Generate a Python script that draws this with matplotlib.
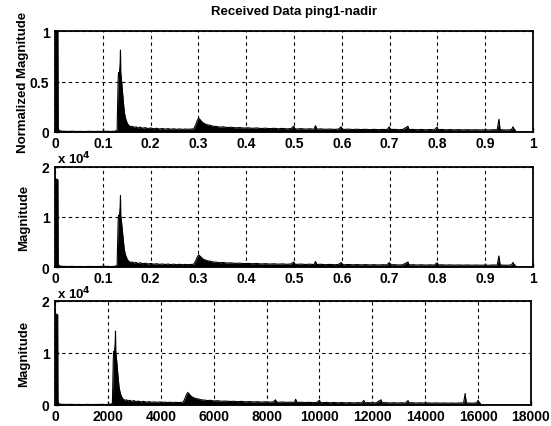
import numpy as np
import matplotlib
matplotlib.use("Agg")
import matplotlib.pyplot as plt

plt.rcParams['font.family'] = ['Liberation Sans', 'DejaVu Sans']
plt.rcParams['font.weight'] = 'bold'

# spectrum: frequency (Hz) and magnitude (10 values per row)
freq_hz = [0, 40, 100, 112, 130, 200, 300, 450, 600, 750,
           900, 1050, 1200, 1350, 1500, 1650, 1800, 1950, 2100, 2170,
           2190, 2205, 2220, 2240, 2260, 2275, 2288, 2296, 2305, 2320,
           2345, 2370, 2395, 2420, 2450, 2480, 2510, 2550, 2590, 2640,
           2700, 2760, 2830, 2900, 2980, 3060, 3150, 3250, 3350, 3450,
           3550, 3650, 3750, 3850, 3950, 4050, 4150, 4250, 4350, 4450,
           4550, 4650, 4750, 4850, 4920, 4970, 5020, 5060, 5110, 5170,
           5240, 5320, 5420, 5520, 5640, 5760, 5880, 6000, 6150, 6300,
           6450, 6600, 6750, 6900, 7050, 7200, 7350, 7500, 7650, 7800,
           7950, 8100, 8250, 8340, 8380, 8450, 8600, 8750, 8900, 9050,
           9100, 9150, 9300, 9450, 9600, 9750, 9900, 10000, 10040, 10100,
           10250, 10400, 10550, 10700, 10850, 11000, 11150, 11300, 11450, 11600,
           11680, 11720, 11850, 12000, 12150, 12330, 12370, 12500, 12650, 12800,
           12950, 13100, 13250, 13350, 13390, 13500, 13650, 13800, 13950, 14100,
           14250, 14400, 14550, 14700, 14850, 15000, 15150, 15300, 15450, 15510,
           15550, 15650, 15800, 15950, 16000, 16050, 16080, 16100, 18000]
mag = [17500, 17500, 17400, 900, 300, 160, 120, 100, 130, 90,
       110, 80, 120, 90, 110, 100, 130, 90, 140, 300,
       5500, 9000, 10300, 9600, 10800, 11800, 14200, 10400, 9900, 9200,
       7800, 6200, 4800, 3500, 2700, 2100, 1700, 1300, 1100, 900,
       1000, 800, 900, 700, 850, 650, 750, 600, 700, 550,
       650, 520, 600, 500, 580, 480, 560, 460, 540, 450,
       520, 470, 500, 560, 1300, 2000, 2400, 2200, 1900, 1600,
       1400, 1250, 1150, 1000, 950, 850, 900, 780, 820, 720,
       760, 680, 720, 640, 700, 600, 660, 580, 640, 560,
       620, 540, 600, 1000, 560, 520, 580, 500, 560, 480,
       1100, 500, 540, 460, 520, 450, 500, 900, 480, 440,
       500, 430, 480, 420, 470, 410, 460, 400, 450, 420,
       900, 430, 460, 400, 440, 1000, 420, 450, 390, 440,
       380, 430, 380, 850, 400, 440, 380, 420, 370, 410,
       360, 400, 360, 390, 350, 380, 340, 400, 380, 2200,
       400, 380, 340, 420, 900, 380, 350, 0, 0]

NYQUIST_HZ = 16700.0

norm_ticks = [0, 0.1, 0.2, 0.3, 0.4, 0.5, 0.6, 0.7, 0.8, 0.9, 1]
norm_tick_labels = ['0', '0.1', '0.2', '0.3', '0.4', '0.5', '0.6', '0.7', '0.8', '0.9', '1']
hz_ticks = [0, 2000, 4000, 6000, 8000, 10000, 12000, 14000, 16000, 18000]

f = np.array(freq_hz, dtype=float)
m = np.array(mag, dtype=float)
fn = f / NYQUIST_HZ

W, H = 551, 427
fig = plt.figure(figsize=(W / 100, H / 100), dpi=100)

def pos(l, t, r, b):
    return [l / W, 1 - b / H, (r - l) / W, (b - t) / H]

ax1 = fig.add_axes(pos(55, 32, 533, 133))
ax2 = fig.add_axes(pos(55, 167.5, 533, 268))
ax3 = fig.add_axes(pos(55, 302, 531, 406))

grid_kw = dict(color='black', linestyle=(0, (3, 3)), linewidth=0.8)

def style(ax):
    for s in ax.spines.values():
        s.set_linewidth(1.3)
        s.set_color('black')
    ax.tick_params(direction='in', length=3, width=1, labelsize=10)
    ax.tick_params(axis='x', pad=3)
    ax.tick_params(axis='y', pad=4)
    for lab in ax.get_xticklabels() + ax.get_yticklabels():
        lab.set_fontweight('bold')
    ax.grid(True, **grid_kw)
    ax.set_axisbelow(False)

# panel 1: normalized
mn = m / m.max()
ax1.fill_between(fn, 0, mn, color='black', linewidth=0)
ax1.plot(fn, mn, color='black', linewidth=0.8)
ax1.set_xlim(0, 1)
ax1.set_ylim(0, 1)
ax1.set_xticks(norm_ticks)
ax1.set_xticklabels(norm_tick_labels)
ax1.set_yticks([0, 0.5, 1])
ax1.set_yticklabels(['0', '0.5', '1'])
ax1.set_ylabel('Normalized Magnitude', fontsize=9.5, fontweight='bold', labelpad=1)
ax1.set_title('Received Data ping1-nadir', fontsize=9.5, fontweight='bold', pad=12)
style(ax1)

# panel 2: magnitude vs normalized frequency
ax2.fill_between(fn, 0, m / 1e4, color='black', linewidth=0)
ax2.plot(fn, m / 1e4, color='black', linewidth=0.8)
ax2.set_xlim(0, 1)
ax2.set_ylim(0, 2)
ax2.set_xticks(norm_ticks)
ax2.set_xticklabels(norm_tick_labels)
ax2.set_yticks([0, 1, 2])
ax2.set_yticklabels(['0', '1', '2'])
ax2.set_ylabel('Magnitude', fontsize=9.5, fontweight='bold', labelpad=8)
ax2.text(0.005, 1.0, r'x 10$^4$', transform=ax2.transAxes, fontsize=9.5,
         fontweight='bold', ha='left', va='bottom')
style(ax2)

# panel 3: magnitude vs Hz
ax3.fill_between(f, 0, m / 1e4, color='black', linewidth=0)
ax3.plot(f, m / 1e4, color='black', linewidth=0.8)
ax3.set_xlim(0, 18000)
ax3.set_ylim(0, 2)
ax3.set_xticks(hz_ticks)
ax3.set_xticklabels([str(t) for t in hz_ticks])
ax3.set_yticks([0, 1, 2])
ax3.set_yticklabels(['0', '1', '2'])
ax3.set_ylabel('Magnitude', fontsize=9.5, fontweight='bold', labelpad=8)
ax3.text(0.005, 1.0, r'x 10$^4$', transform=ax3.transAxes, fontsize=9.5,
         fontweight='bold', ha='left', va='bottom')
style(ax3)

fig.savefig('out.png', dpi=100)
